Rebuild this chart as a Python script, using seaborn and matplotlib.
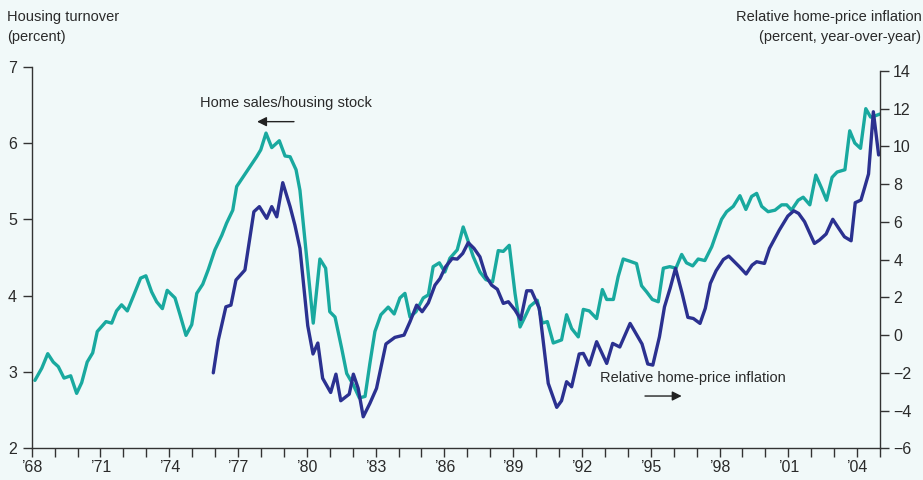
import matplotlib
matplotlib.use("Agg")
import matplotlib.pyplot as plt
from matplotlib.ticker import FixedLocator
import seaborn as sns
import pandas as pd

# ---- data ----
turnover_year = [1968.14, 1968.44, 1968.70, 1968.94, 1969.16, 1969.41, 1969.70, 1969.96,
                 1970.18, 1970.42, 1970.66, 1970.86, 1971.24, 1971.49, 1971.70, 1971.92,
                 1972.17, 1972.43, 1972.75, 1972.98, 1973.23, 1973.45, 1973.70, 1973.91,
                 1974.25, 1974.47, 1974.73, 1974.98, 1975.20, 1975.46, 1975.70, 1975.99,
                 1976.29, 1976.50, 1976.77, 1976.94, 1977.23, 1977.52, 1977.81, 1977.99,
                 1978.22, 1978.47, 1978.80, 1979.05, 1979.27, 1979.53, 1979.70, 1980.28,
                 1980.57, 1980.82, 1981.00, 1981.23, 1981.52, 1981.74, 1982.03, 1982.29,
                 1982.54, 1982.75, 1982.97, 1983.23, 1983.55, 1983.81, 1984.06, 1984.28,
                 1984.50, 1984.76, 1985.08, 1985.30, 1985.51, 1985.78, 1986.02, 1986.24,
                 1986.56, 1986.82, 1987.04, 1987.26, 1987.55, 1987.81, 1988.10, 1988.35,
                 1988.57, 1988.83, 1989.08, 1989.30, 1989.51, 1989.73, 1990.05, 1990.27,
                 1990.49, 1990.75, 1991.11, 1991.33, 1991.55, 1991.84, 1992.06, 1992.32,
                 1992.64, 1992.89, 1993.08, 1993.37, 1993.58, 1993.80, 1994.10, 1994.38,
                 1994.60, 1994.82, 1995.07, 1995.33, 1995.55, 1995.83, 1996.10, 1996.35,
                 1996.56, 1996.83, 1997.07, 1997.36, 1997.66, 1997.87, 1998.09, 1998.31,
                 1998.60, 1998.89, 1999.15, 1999.40, 1999.62, 1999.84, 2000.12, 2000.42,
                 2000.71, 2000.93, 2001.14, 2001.43, 2001.65, 2001.94, 2002.20, 2002.45,
                 2002.67, 2002.91, 2003.13, 2003.47, 2003.68, 2003.90, 2004.15, 2004.38,
                 2004.59, 2004.73, 2005.00]
turnover = [2.89, 3.05, 3.24, 3.13, 3.07, 2.92, 2.95, 2.72,
            2.86, 3.13, 3.25, 3.53, 3.66, 3.64, 3.80, 3.88,
            3.80, 3.99, 4.23, 4.26, 4.05, 3.92, 3.83, 4.07,
            3.97, 3.75, 3.48, 3.62, 4.03, 4.15, 4.34, 4.60,
            4.79, 4.95, 5.12, 5.43, 5.56, 5.69, 5.82, 5.91,
            6.13, 5.94, 6.03, 5.83, 5.82, 5.65, 5.38, 3.64,
            4.48, 4.36, 3.79, 3.72, 3.31, 2.98, 2.83, 2.66,
            2.68, 3.11, 3.53, 3.75, 3.85, 3.76, 3.97, 4.03,
            3.72, 3.79, 3.97, 4.01, 4.38, 4.43, 4.31, 4.49,
            4.60, 4.90, 4.71, 4.51, 4.31, 4.21, 4.18, 4.59,
            4.58, 4.66, 4.03, 3.59, 3.72, 3.86, 3.94, 3.64,
            3.66, 3.38, 3.42, 3.75, 3.57, 3.46, 3.82, 3.80,
            3.70, 4.08, 3.95, 3.95, 4.25, 4.48, 4.45, 4.42,
            4.13, 4.05, 3.95, 3.92, 4.36, 4.38, 4.36, 4.54,
            4.43, 4.39, 4.48, 4.46, 4.64, 4.82, 5.00, 5.10,
            5.17, 5.31, 5.13, 5.30, 5.34, 5.17, 5.10, 5.12,
            5.19, 5.19, 5.12, 5.25, 5.29, 5.19, 5.58, 5.41,
            5.25, 5.55, 5.62, 5.65, 6.16, 6.00, 5.93, 6.45,
            6.34, 6.35, 6.38]

inflation_year = [1975.92, 1976.14, 1976.47, 1976.69, 1976.91, 1977.30, 1977.69, 1977.93,
                  1978.25, 1978.47, 1978.69, 1978.95, 1979.27, 1979.48, 1979.70, 1980.04,
                  1980.27, 1980.48, 1980.69, 1981.04, 1981.27, 1981.48, 1981.85, 1982.03,
                  1982.24, 1982.46, 1982.75, 1983.04, 1983.45, 1983.84, 1984.24, 1984.50,
                  1984.79, 1985.03, 1985.30, 1985.59, 1985.81, 1986.05, 1986.34, 1986.56,
                  1986.80, 1987.04, 1987.29, 1987.55, 1987.81, 1988.06, 1988.31, 1988.57,
                  1988.79, 1989.08, 1989.33, 1989.59, 1989.80, 1990.14, 1990.53, 1990.90,
                  1991.11, 1991.33, 1991.55, 1991.88, 1992.06, 1992.32, 1992.64, 1993.08,
                  1993.34, 1993.65, 1994.10, 1994.62, 1994.87, 1995.09, 1995.38, 1995.60,
                  1995.85, 1996.08, 1996.37, 1996.62, 1996.86, 1997.15, 1997.38, 1997.60,
                  1997.85, 1998.17, 1998.40, 1998.87, 1999.16, 1999.42, 1999.62, 1999.96,
                  2000.18, 2000.61, 2000.98, 2001.24, 2001.45, 2001.71, 2002.14, 2002.36,
                  2002.65, 2002.94, 2003.20, 2003.45, 2003.74, 2003.92, 2004.17, 2004.32,
                  2004.50, 2004.71, 2004.94]
inflation = [-2.0, -0.26, 1.5, 1.59, 2.92, 3.45, 6.54, 6.81,
             6.19, 6.81, 6.27, 8.08, 6.81, 5.83, 4.6, 0.5,
             -1.0, -0.42, -2.29, -3.04, -2.07, -3.48, -3.13, -2.07,
             -2.82, -4.33, -3.62, -2.82, -0.47, -0.12, 0.0, 0.71,
             1.59, 1.24, 1.71, 2.65, 3.0, 3.62, 4.06, 4.03,
             4.33, 4.9, 4.6, 4.15, 3.13, 2.65, 2.43, 1.68,
             1.77, 1.33, 0.83, 2.35, 2.35, 1.42, -2.56, -3.83,
             -3.48, -2.47, -2.74, -1.0, -0.97, -1.59, -0.35, -1.5,
             -0.44, -0.63, 0.62, -0.47, -1.53, -1.59, -0.09, 1.5,
             2.5, 3.54, 2.21, 0.94, 0.88, 0.62, 1.42, 2.74,
             3.41, 4.01, 4.19, 3.62, 3.24, 3.71, 3.89, 3.8,
             4.6, 5.57, 6.31, 6.59, 6.45, 6.01, 4.86, 5.04,
             5.36, 6.14, 5.66, 5.21, 5.0, 7.02, 7.16, 7.78,
             8.54, 11.84, 9.55]

left_ticks = [2, 3, 4, 5, 6, 7]
right_ticks = [-6, -4, -2, 0, 2, 4, 6, 8, 10, 12, 14]
year_ticks = list(range(1968, 2005, 3))
year_labels = ["\u2019" + str(y)[2:] for y in year_ticks]

# ---- style ----
sns.set_theme(style="ticks")
plt.rcParams["font.family"] = ["Liberation Sans", "DejaVu Sans"]
bg = "#f1f9f9"
teal = "#19a99f"
navy = "#2b3190"
txt = "#2a2a2a"
axc = "#333333"
fs_text = 10.5
fs_tick = 11.5

fig = plt.figure(figsize=(9.23, 4.8), dpi=100, facecolor=bg)
ax = fig.add_axes([31.7 / 923, 31.7 / 480, (880 - 31.7) / 923, (448.3 - 66.7) / 480])
ax.set_facecolor(bg)
ax2 = ax.twinx()

df1 = pd.DataFrame({"year": turnover_year, "turnover": turnover})
df2 = pd.DataFrame({"year": inflation_year, "inflation": inflation})
sns.lineplot(data=df1, x="year", y="turnover", ax=ax, color=teal, linewidth=2.4,
             estimator=None, sort=False)
sns.lineplot(data=df2, x="year", y="inflation", ax=ax2, color=navy, linewidth=2.4,
             estimator=None, sort=False)

ax.set_xlim(1968, 2005)
ax.set_ylim(2, 7)
ax2.set_ylim(-6, 14 + 4.3 / 18.865)
ax.set_xlabel("")
ax.set_ylabel("")
ax2.set_ylabel("")

for a in (ax, ax2):
    for s in a.spines.values():
        s.set_color(axc)
        s.set_linewidth(1.0)
    a.spines["top"].set_visible(False)
ax.spines["right"].set_visible(False)
ax2.spines["left"].set_visible(False)
ax2.spines["bottom"].set_visible(False)
ax2.spines["right"].set_visible(True)
ax2.spines["right"].set_bounds(-6, 14)

ax.set_xticks(year_ticks)
ax.set_xticklabels(year_labels)
ax.xaxis.set_minor_locator(FixedLocator(list(range(1968, 2006))))
ax.set_yticks(left_ticks)
ax2.set_yticks(right_ticks)
ax2.set_yticklabels([("\u2212" + str(-t)) if t < 0 else str(t) for t in right_ticks])

ax.tick_params(axis="x", which="both", direction="out", length=6.5, width=1.0,
               color=axc, labelsize=fs_tick, labelcolor=txt, pad=2)
ax.tick_params(axis="y", which="both", direction="out", length=6.5, width=1.0,
               color=axc, labelsize=fs_tick, labelcolor=txt, pad=4)
ax2.tick_params(axis="y", which="both", direction="out", length=6.5, width=1.0,
                color=axc, labelsize=fs_tick, labelcolor=txt, pad=3)

# annotations
arrow_kw = dict(arrowstyle="-|>", color="#222222", lw=1.0,
                mutation_scale=14, shrinkA=0, shrinkB=0)
ax.text(1975.34, 6.52, "Home sales/housing stock", fontsize=fs_text, color=txt,
        ha="left", va="center")
ax.annotate("", xy=(1977.83, 6.28), xytext=(1979.44, 6.28), arrowprops=arrow_kw)
ax.text(1992.79, 2.917, "Relative home-price inflation", fontsize=fs_text, color=txt,
        ha="left", va="center")
ax.annotate("", xy=(1996.35, 2.685), xytext=(1994.75, 2.685), arrowprops=arrow_kw)

# axis titles
fig.text(7 / 923, 1 - 16.7 / 480, "Housing turnover", fontsize=fs_text, color=txt,
         ha="left", va="center")
fig.text(7 / 923, 1 - 37.5 / 480, "(percent)", fontsize=fs_text, color=txt,
         ha="left", va="center")
fig.text(922 / 923, 1 - 16.7 / 480, "Relative home-price inflation", fontsize=fs_text,
         color=txt, ha="right", va="center")
fig.text(921 / 923, 1 - 37.5 / 480, "(percent, year-over-year)", fontsize=fs_text,
         color=txt, ha="right", va="center")

fig.savefig("out.png", dpi=100, facecolor=bg)
